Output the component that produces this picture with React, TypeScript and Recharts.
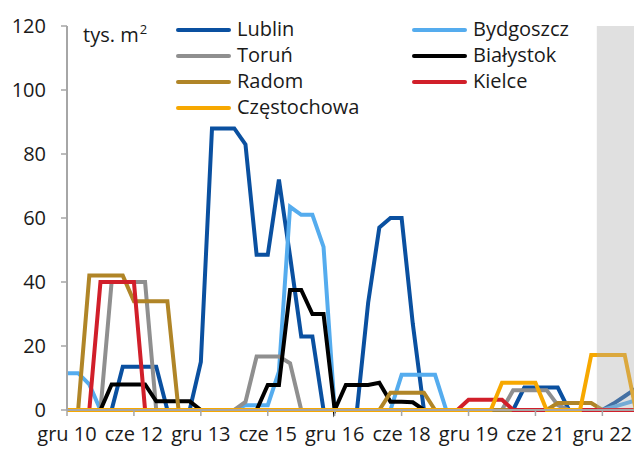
import React from 'react';
import { LineChart, Line, XAxis, YAxis, ReferenceArea } from 'recharts';

// Quarterly observations, index 0 = gru 10 (Q4 2010) ... index 52
const tickLabels = ['gru 10', 'cze 12', 'gru 13', 'cze 15', 'gru 16', 'cze 18', 'gru 19', 'cze 21', 'gru 22'];
const tickIndexes = [0, 6, 12, 18, 24, 30, 36, 42, 48];
const yTicks = [0, 20, 40, 60, 80, 100, 120];
const forecastFrom = 47.5;
const forecastTo = 52;

const lublin = [
  0, 0, 0, 0, 0, 13.5, 13.5, 13.5, 13.5, 0,
  0, 0, 15, 88, 88, 88, 83, 48.5, 48.5, 72,
  48, 23, 23, 0, 0, 0, 0, 33.5, 57, 60,
  60, 27, 0, 0, 0, 0, 0, 0, 0, 0,
  0, 7, 7, 7, 7, 0, 0, 0, 0, 2,
  4.3, 6.7, 7.5,
];
const bydgoszcz = [
  11.5, 11.5, 8, 0, 0, 0, 0, 0, 0, 0,
  0, 0, 0, 0, 0, 0, 1.5, 1.5, 1.5, 12,
  63.5, 61, 61, 51, 0, 0, 0, 0, 0, 0,
  11, 11, 11, 11, 0, 0, 0, 0, 0, 0,
  0, 0, 0, 0, 0, 0, 0, 0, 0, 1,
  2, 3, 3.8,
];
const torun = [
  0, 0, 0, 0, 40, 40, 40, 40, 0, 0,
  0, 0, 0, 0, 0, 0, 2.5, 16.7, 16.7, 16.7,
  14.6, 0, 0, 0, 0, 0, 0, 0, 0, 0,
  0, 0, 0, 0, 0, 0, 0, 0, 0, 0,
  6.2, 6.2, 6.2, 6.2, 1.5, 0, 0, 0, 0, 0,
  0, 0, 0,
];
const bialystok = [
  0, 0, 0, 0, 8, 8, 8, 8, 2.7, 2.7,
  2.7, 2.7, 0, 0, 0, 0, 0, 0, 7.8, 7.8,
  37.5, 37.5, 30, 30, 0, 7.8, 7.8, 7.8, 8.5, 2.6,
  2.6, 2.4, 0, 0, 0, 0, 0, 0, 0, 0,
  0, 0, 0, 0, 0, 0, 0, 0, 0, 0,
  0, 0, 0,
];
const radom = [
  0, 0, 42, 42, 42, 42, 34, 34, 34, 34,
  0, 0, 0, 0, 0, 0, 0, 0, 0, 0,
  0, 0, 0, 0, 0, 0, 0, 0, 0, 5.4,
  5.4, 5.4, 5.4, 0, 0, 0, 0, 0, 0, 0,
  0, 0, 0, 0, 2.2, 2.2, 2.2, 2.2, 0, 0,
  0, 0, 0,
];
const kielce = [
  0, 0, 0, 40, 40, 40, 40, 0, 0, 0,
  0, 0, 0, 0, 0, 0, 0, 0, 0, 0,
  0, 0, 0, 0, 0, 0, 0, 0, 0, 0,
  0, 0, 0, 0, 0, 0, 3.2, 3.2, 3.2, 3.2,
  0, 0, 0, 0, 0, 0, 0, 0, 0, 0,
  0, 0, 0,
];
const czestochowa = [
  0, 0, 0, 0, 0, 0, 0, 0, 0, 0,
  0, 0, 0, 0, 0, 0, 0, 0, 0, 0,
  0, 0, 0, 0, 0, 0, 0, 0, 0, 0,
  0, 0, 0, 0, 0, 0, 0, 0, 0, 8.5,
  8.5, 8.5, 8.5, 0, 0, 0, 0, 17.2, 17.2, 17.2,
  17.2, 0, 0,
];

const series = [
  { name: 'Lublin', values: lublin, color: '#0a50a0' },
  { name: 'Bydgoszcz', values: bydgoszcz, color: '#55acee' },
  { name: 'Toruń', values: torun, color: '#8f8f8f' },
  { name: 'Białystok', values: bialystok, color: '#000000' },
  { name: 'Radom', values: radom, color: '#b08527' },
  { name: 'Kielce', values: kielce, color: '#d11f2a' },
  { name: 'Częstochowa', values: czestochowa, color: '#f7a800' },
];

const data = lublin.map((_, i) => {
  const row: Record<string, number> = { i };
  series.forEach((s) => {
    row[s.name] = s.values[i];
  });
  return row;
});

const FONT = '"Open Sans", "Liberation Sans", sans-serif';
const TEXT = '#1a1a1a';

function LegendBox() {
  return (
    <div style={{ position: 'absolute', left: 0, top: 0, width: 634, height: 130, pointerEvents: 'none' }}>
      <div
        style={{
          position: 'absolute',
          left: 75,
          top: 13,
          fontFamily: FONT,
          fontSize: 20,
          lineHeight: '28px',
          color: TEXT,
          whiteSpace: 'nowrap',
        }}
      >
        tys. m
        <span style={{ fontSize: 13, position: 'relative', top: -8, marginLeft: 1 }}>2</span>
      </div>
      {series.map((s, k) => {
        const col = k % 2;
        const row = Math.floor(k / 2);
        const lineLeft = col === 0 ? 168 : 404;
        const cy = 22 + row * 26;
        return (
          <div key={s.name}>
            <div
              style={{
                position: 'absolute',
                left: lineLeft,
                top: cy - 2,
                width: 55,
                height: 4,
                borderRadius: 2,
                background: s.color,
              }}
            />
            <div
              style={{
                position: 'absolute',
                left: lineLeft + 61,
                top: cy - 15,
                fontFamily: FONT,
                fontSize: 20,
                lineHeight: '28px',
                color: TEXT,
                whiteSpace: 'nowrap',
              }}
            >
              {s.name}
            </div>
          </div>
        );
      })}
    </div>
  );
}

export default function App() {
  return (
    <div style={{ position: 'relative', width: 634, height: 442, overflow: 'hidden', background: '#fff' }}>
      <LineChart width={639} height={442} data={data} margin={{ top: 18, right: 0, bottom: 0, left: 0 }}>
        <XAxis
          type="number"
          dataKey="i"
          domain={[0, 52]}
          ticks={tickIndexes}
          interval={0}
          tickFormatter={(v: number) => tickLabels[tickIndexes.indexOf(v)] ?? ''}
          axisLine={{ stroke: '#a6a6a6', strokeWidth: 2 }}
          tickLine={{ stroke: '#a6a6a6', strokeWidth: 1.5 }}
          tickSize={6}
          tickMargin={11}
          height={40}
          tick={{ fill: TEXT, fontSize: 20, fontFamily: FONT }}
        />
        <YAxis
          type="number"
          domain={[0, 120]}
          ticks={yTicks}
          interval={0}
          axisLine={{ stroke: '#a6a6a6', strokeWidth: 2 }}
          tickLine={{ stroke: '#a6a6a6', strokeWidth: 1.5 }}
          tickSize={6}
          tickMargin={15}
          width={59}
          tick={{ fill: TEXT, fontSize: 20, fontFamily: FONT }}
        />
        {series.map((s) => (
          <Line
            key={s.name}
            type="linear"
            dataKey={s.name}
            stroke={s.color}
            strokeWidth={4}
            dot={false}
            activeDot={false}
            isAnimationActive={false}
          />
        ))}
        <ReferenceArea
          x1={forecastFrom}
          x2={forecastTo}
          y1={0.5}
          y2={120}
          fill="#aaaaaa"
          fillOpacity={0.365}
          stroke="none"
          ifOverflow="hidden"
          zIndex={1000}
        />
      </LineChart>
      <LegendBox />
    </div>
  );
}
